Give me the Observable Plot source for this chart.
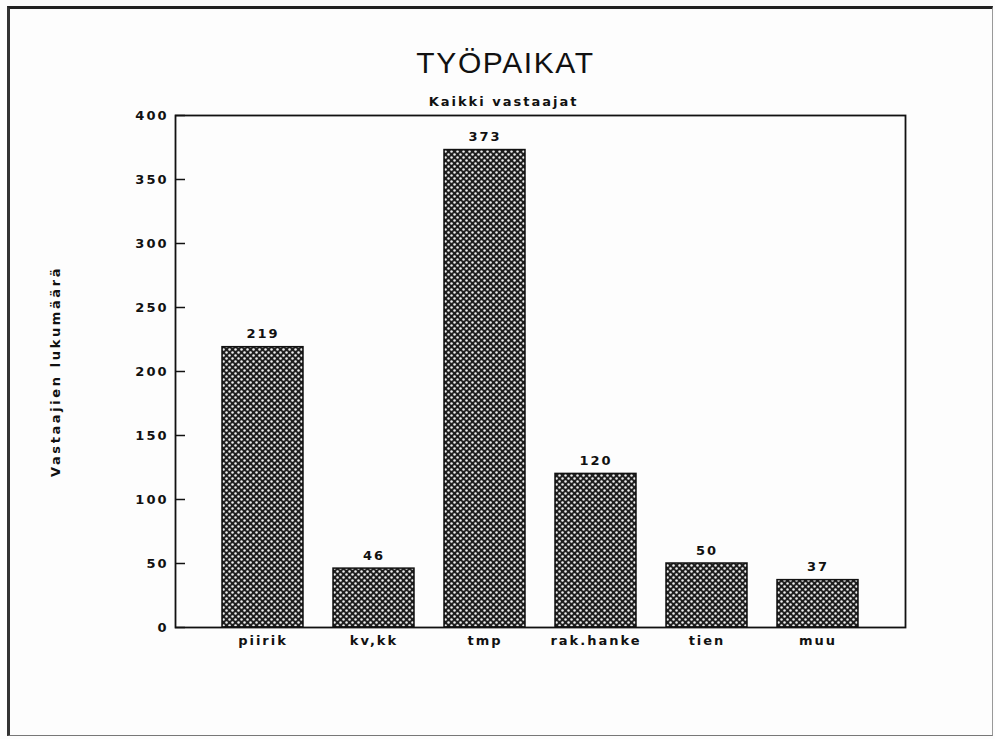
<!DOCTYPE html>
<html>
<head>
<meta charset="utf-8">
<script src="https://cdn.jsdelivr.net/npm/d3@7"></script>
<script src="https://cdn.jsdelivr.net/npm/@observablehq/plot@0.6"></script>
<style>
  html, body { margin: 0; padding: 0; background: #fff; }
  #wrap { position: relative; width: 995px; height: 739px; overflow: hidden; background: #fdfdfd; }
  #border { position: absolute; left: 7px; top: 6px; width: 986px; height: 730px; box-sizing: border-box;
            border-top: 3px solid #222; border-left: 3px solid #333; border-right: 1px solid #999; border-bottom: 1px solid #777; }
  #chart { position: absolute; left: 0; top: 0; }
  #chart svg text { letter-spacing: 2px; }
</style>
</head>
<body>
<div id="wrap"><div id="border"></div><div id="chart"></div></div>
<script>
const title = "TYÖPAIKAT";
const subtitle = "Kaikki vastaajat";
const yLabel = "Vastaajien lukumäärä";
const categories = ["piirik", "kv,kk", "tmp", "rak.hanke", "tien", "muu"];
const counts = [219, 46, 373, 120, 50, 37];
const yTicks = [0, 50, 100, 150, 200, 250, 300, 350, 400];

const data = categories.map((c, i) => ({category: c, count: counts[i]}));
const font = "'DejaVu Sans', sans-serif";

const plot = Plot.plot({
  width: 995,
  height: 739,
  marginLeft: 175,
  marginRight: 90,
  marginTop: 115,
  marginBottom: 112,
  style: {fontFamily: font, fontSize: "13px", fontWeight: "bold", color: "#111", background: "transparent"},
  x: {domain: categories, paddingInner: 0.27, paddingOuter: 0.4, label: null},
  y: {domain: [0, 400], label: null},
  marks: [
    Plot.barY(data, {x: "category", y: "count", fill: "url(#dotpat)", stroke: "#111", strokeWidth: 1.5}),
    Plot.frame({stroke: "#111", strokeWidth: 1.8}),
    Plot.ruleY(yTicks, {y: d => d, insetRight: 720, stroke: "#111", strokeWidth: 1.5}),
    Plot.axisY({ticks: yTicks, tickSize: 0, tickPadding: 7, label: null, fontWeight: "bold"}),
    Plot.axisX({tickSize: 0, tickPadding: 8, label: null, fontWeight: "bold"}),
    Plot.text(data, {x: "category", y: "count", text: d => String(d.count), lineAnchor: "bottom", dy: -9, fontWeight: "bold"}),
    Plot.text([title], {frameAnchor: "top", text: d => d, dx: -35, dy: -43, lineAnchor: "bottom", fontSize: 30, fontWeight: "normal", fontFamily: "'Liberation Sans', sans-serif"}),
    Plot.text([subtitle], {frameAnchor: "top", text: d => d, dx: -37, dy: -10, lineAnchor: "bottom", fontSize: 13, fontWeight: "bold"}),
    Plot.text([yLabel], {frameAnchor: "left", text: d => d, dx: -120, rotate: -90, textAnchor: "middle", fontSize: 13, fontWeight: "bold"})
  ]
});

plot.querySelectorAll("text").forEach(t => {
  if (t.textContent === title) t.style.letterSpacing = "1.6px";
  if (t.textContent === yLabel) t.style.letterSpacing = "2.6px";
});

const svgNS = "http://www.w3.org/2000/svg";
const defs = document.createElementNS(svgNS, "defs");
const pat = document.createElementNS(svgNS, "pattern");
pat.setAttribute("id", "dotpat");
pat.setAttribute("width", "6");
pat.setAttribute("height", "6");
pat.setAttribute("patternUnits", "userSpaceOnUse");
const bg = document.createElementNS(svgNS, "rect");
bg.setAttribute("width", "6"); bg.setAttribute("height", "6"); bg.setAttribute("fill", "#1e1e1e");
pat.appendChild(bg);
[[1.5, 1.5], [4.5, 4.5]].forEach(([cx, cy]) => {
  const c = document.createElementNS(svgNS, "circle");
  c.setAttribute("cx", cx); c.setAttribute("cy", cy); c.setAttribute("r", "1.25"); c.setAttribute("fill", "#eeeeee");
  pat.appendChild(c);
});
defs.appendChild(pat);
plot.insertBefore(defs, plot.firstChild);
document.getElementById("chart").appendChild(plot);
</script>
</body>
</html>
